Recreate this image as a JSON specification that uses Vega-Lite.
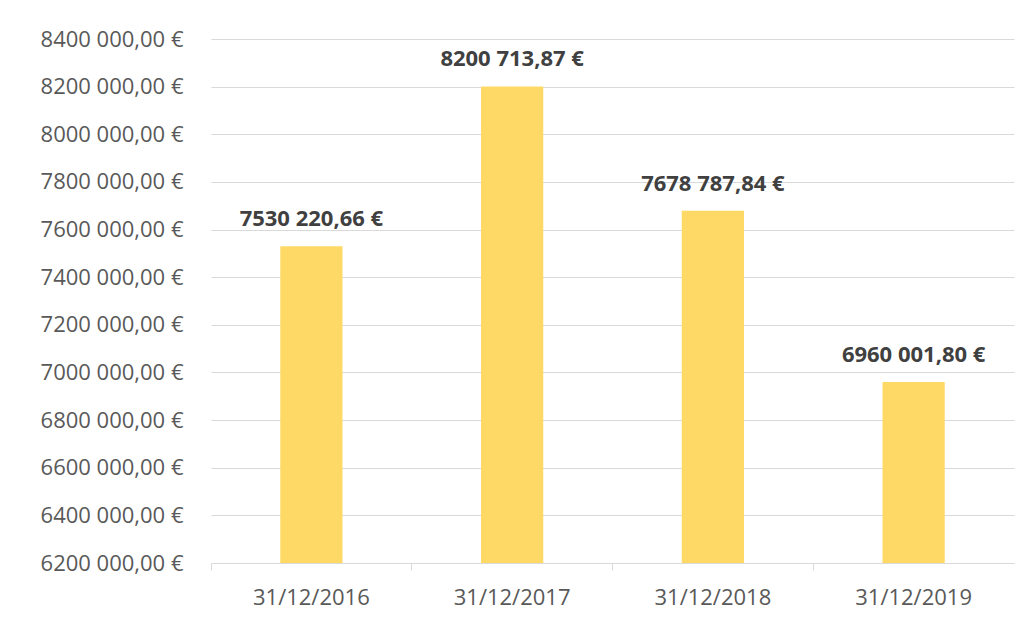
{
  "$schema": "https://vega.github.io/schema/vega-lite/v6.json",
  "autosize": "none",
  "width": 803,
  "height": 524,
  "padding": {"left": 211, "top": 39, "right": 17, "bottom": 65},
  "background": "white",
  "data": {"values": [
    {"date": "31/12/2016", "value": 7530220.66, "label": "7530 220,66 €"},
    {"date": "31/12/2017", "value": 8200713.87, "label": "8200 713,87 €"},
    {"date": "31/12/2018", "value": 7678787.84, "label": "7678 787,84 €"},
    {"date": "31/12/2019", "value": 6960001.80, "label": "6960 001,80 €"}
  ]},
  "encoding": {
    "x": {"field": "date", "type": "nominal", "sort": null,
      "scale": {"paddingInner": 0, "paddingOuter": 0},
      "axis": {"title": null, "labelAngle": 0, "bandPosition": 0, "domainColor": "#D9D9D9", "tickColor": "#D9D9D9", "tickSize": 7, "labelPadding": 17, "labelFont": "Open Sans", "labelFontSize": 22, "labelColor": "#595959", "grid": false}},
    "y": {"field": "value", "type": "quantitative",
      "scale": {"domain": [6200000, 8400000], "zero": false, "nice": false},
      "axis": {"title": null, "values": [6200000, 6400000, 6600000, 6800000, 7000000, 7200000, 7400000, 7600000, 7800000, 8000000, 8200000, 8400000], "labelExpr": "floor(datum.value/1000) + ' 000,00 €'", "domain": false, "ticks": false, "tickSize": 0, "labelPadding": 28, "grid": true, "gridColor": "#D9D9D9", "labelFont": "Open Sans", "labelFontSize": 22, "labelColor": "#595959"}}
  },
  "layer": [
    {"mark": {"type": "bar", "color": "#FFD966", "width": {"band": 0.31}},
      "encoding": {"y2": {"datum": 6200000}}},
    {"mark": {"type": "text", "baseline": "alphabetic", "dy": -20, "font": "Open Sans", "fontSize": 22, "fontWeight": "bold", "color": "#404040"},
      "encoding": {"text": {"field": "label"}}}
  ],
  "config": {"view": {"stroke": null}}
}
